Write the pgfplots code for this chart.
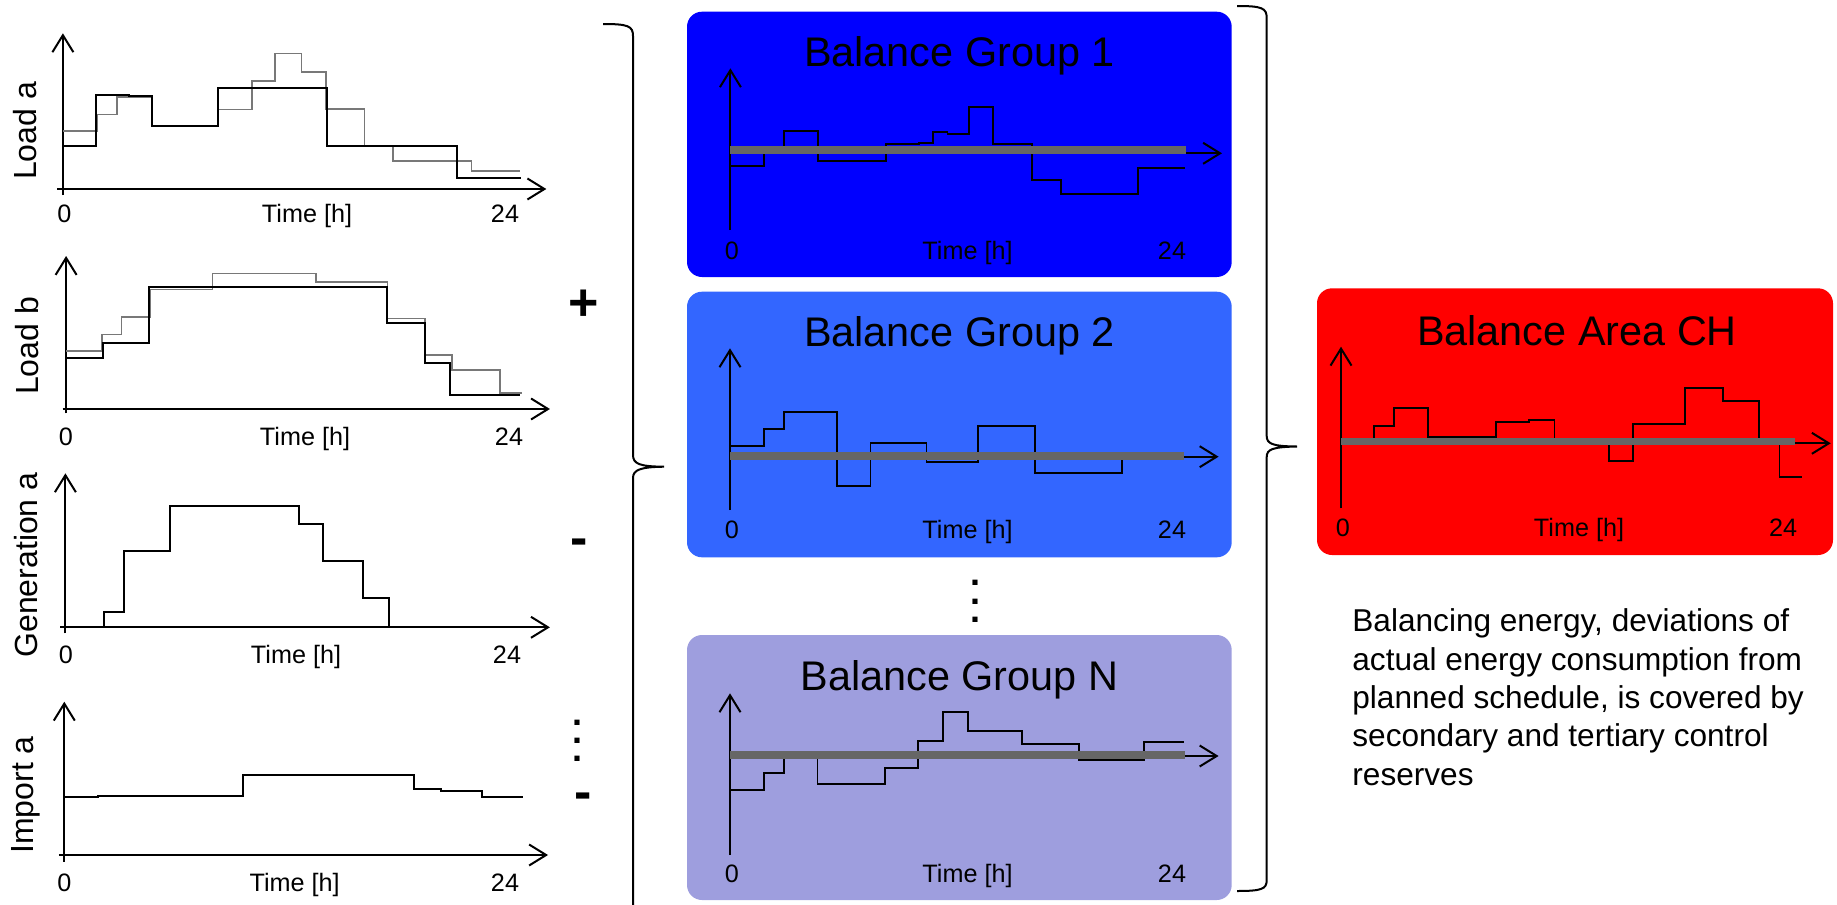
\documentclass[border=0pt]{standalone}
\usepackage{fontspec}
\setmainfont{Liberation Sans}
\usepackage{pgfplots}
\pgfplotsset{compat=1.18}
\usetikzlibrary{arrows.meta}

\definecolor{bgone}{HTML}{0000FF}
\definecolor{bgtwo}{HTML}{3366FF}
\definecolor{bgn}{HTML}{9E9EDE}
\definecolor{bgch}{HTML}{FF0000}
\definecolor{zerobar}{HTML}{666666}
\definecolor{plan}{HTML}{787878}

% one reference pixel = 0.5pt; axes are placed at their origin
\pgfplotsset{
  mini/.style={
    anchor=origin,
    axis lines*=middle,
    axis line style={line width=1pt,-{Straight Barb[length=8.5pt,width=10.5pt]}},
    ticks=none,
    clip=false,
    y=5pt,
  },
  step/.style={const plot, black, line width=0.95pt, no marks},
  stepgray/.style={const plot, plan, line width=0.8pt, no marks},
  zero/.style={sharp plot, zerobar, line width=3.7pt, no marks},
}

\newcommand{\lbl}{\fontsize{12.6}{15}\selectfont}
\newcommand{\side}{\fontsize{16}{19}\selectfont}
\newcommand{\ttl}{\fontsize{20.7}{25}\selectfont}
\newcommand{\note}{\fontsize{15.8}{19}\selectfont}
\newcommand{\sign}{\fontsize{26}{30}\selectfont\bfseries}
\newcommand{\dotf}{\fontsize{18}{9.1}\selectfont\bfseries}

\begin{document}
\begin{tikzpicture}[x=0.5pt,y=-0.5pt]
\useasboundingbox (0,0) rectangle (1837,905);

% coloured boxes
\fill[bgone,rounded corners=7.5pt] (687,11.7) rectangle (1231.7,277);
\fill[bgtwo,rounded corners=7.5pt] (687,291.7) rectangle (1231.7,557.3);
\fill[bgn,rounded corners=7.5pt] (687,635) rectangle (1231.7,900);
\fill[bgch,rounded corners=7.5pt] (1317,288.3) rectangle (1833,555);

% Load a
\begin{axis}[mini, at={({62.9*0.5pt},{-189*0.5pt})}, x=9.55pt, xmin=-0.3, xmax=25.31, ymin=-0.6, ymax=15.57]
\addplot[stepgray] coordinates {(0,5.8)(1.79,7.47)(2.84,9.23)(4.65,6.33)(8.11,7.97)(9.89,10.8)(11.1,13.57)(12.5,11.73)(13.76,8.0)(15.78,4.33)(17.27,2.83)(21.39,1.8)(23.91,1.8)};
\addplot[step] coordinates {(0,4.33)(1.72,9.4)(3.48,9.3)(4.65,6.33)(5.78,6.3)(8.11,10.07)(13.81,4.33)(20.64,1.13)(24,1.13)};
\end{axis}

% Load b
\begin{axis}[mini, at={({66.1*0.5pt},{-409*0.5pt})}, x=9.45pt, xmin=-0.19, xmax=25.6, ymin=-0.43, ymax=15.3]
\addplot[stepgray] coordinates {(0,5.8)(1.89,7.47)(2.93,9.23)(4.44,11.97)(7.74,13.57)(13.23,12.73)(17.0,9.07)(19.0,5.4)(20.41,3.9)(22.96,1.63)(24.1,1.63)};
\addplot[step] coordinates {(0,5.13)(1.93,6.57)(4.4,12.17)(17.0,8.57)(19.0,4.57)(20.31,1.4)(24,1.4)};
\end{axis}

% Generation a
\begin{axis}[mini, at={({65.4*0.5pt},{-627.3*0.5pt})}, x=9.5pt, xmin=-0.28, xmax=25.5, ymin=-0.6, ymax=15.4]
\addplot[step] coordinates {(0,0)(2.05,1.57)(3.1,7.67)(5.49,12.13)(12.31,10.3)(13.57,6.63)(15.64,2.97)(17.05,0)(18,0)};
\end{axis}

% Import a
\begin{axis}[mini, at={({64.3*0.5pt},{-855*0.5pt})}, x=9.56pt, xmin=-0.28, xmax=25.3, ymin=-0.67, ymax=15.33]
\addplot[step] coordinates {(0,5.77)(1.77,5.9)(9.34,8.0)(18.27,6.57)(19.7,6.43)(21.85,5.77)(24,5.77)};
\end{axis}

% Balance Group 1
\begin{axis}[mini, at={({730.4*0.5pt},{-153.3*0.5pt})}, x=9.465pt, xmin=0, xmax=25.97, ymin=-7.67, ymax=8.5]
\addplot[step] coordinates {(0,-1.23)(1.79,0)(2.83,2.23)(4.62,-0.73)(8.21,0.9)(9.94,1.0)(10.72,2.1)(11.47,1.93)(12.6,4.67)(13.89,0.93)(15.94,-2.67)(17.45,-4.1)(21.51,-1.5)(24,-1.5)};
\addplot[zero] coordinates {(0,0.33)(24.09,0.33)};
\end{axis}

% Balance Group 2
\begin{axis}[mini, at={({730*0.5pt},{-456.7*0.5pt})}, x=9.465pt, xmin=0, xmax=25.81, ymin=-5.33, ymax=10.84]
\addplot[step] coordinates {(0,1.1)(1.79,2.77)(2.83,4.43)(5.66,-2.93)(7.42,1.4)(10.38,-0.5)(13.11,3.1)(16.13,-1.67)(20.72,0)(24,0)};
\addplot[zero] coordinates {(0,0.07)(23.96,0.07)};
\end{axis}

% Balance Group N
\begin{axis}[mini, at={({730*0.5pt},{-756*0.5pt})}, x=9.465pt, xmin=0, xmax=25.81, ymin=-9.9, ymax=6.27]
\addplot[step] coordinates {(0,-3.4)(1.79,-1.73)(2.83,0)(4.62,-2.83)(8.21,-1.23)(9.91,1.53)(11.23,4.37)(12.55,2.5)(15.43,1.17)(18.45,-0.4)(21.89,1.43)(24,1.43)};
\addplot[zero] coordinates {(0,0.1)(24.05,0.1)};
\end{axis}

% Balance Area CH
\begin{axis}[mini, at={({1341*0.5pt},{-443.3*0.5pt})}, x=9.455pt, xmin=0, xmax=25.9, ymin=-6.5, ymax=9.66]
\addplot[step] coordinates {(0,0)(1.76,1.73)(2.81,3.5)(4.62,0.6)(8.19,2.1)(9.96,2.33)(11.29,0)(14.17,-1.73)(15.43,1.93)(18.21,5.5)(20.2,4.27)(22.1,0)(23.19,-3.33)(24.37,-3.33)};
\addplot[zero] coordinates {(0,0.16)(24,0.16)};
\end{axis}

% axis texts of the small charts
\begin{scope}[every node/.style={anchor=base,inner sep=0pt,font=\lbl}]
\node at (64.3,222.5) {0}; \node at (307,222.5) {Time [h]}; \node at (505,222.5) {24};
\node at (66,445) {0}; \node at (305,445) {Time [h]}; \node at (509,445) {24};
\node at (66,663) {0}; \node at (296,663) {Time [h]}; \node at (507,663) {24};
\node at (64.3,891) {0}; \node at (294.6,891) {Time [h]}; \node at (505,891) {24};
\node at (731.8,259) {0}; \node at (967.5,259) {Time [h]}; \node at (1172,259) {24};
\node at (731.8,538) {0}; \node at (967.5,538) {Time [h]}; \node at (1172,538) {24};
\node at (731.8,882.7) {0}; \node at (967.5,882.7) {Time [h]}; \node at (1172,882.7) {24};
\node at (1342.8,536.7) {0}; \node at (1579,536.7) {Time [h]}; \node at (1783,536.7) {24};
\end{scope}

\begin{scope}[every node/.style={rotate=90,inner sep=0pt,font=\side}]
\node at (25,131) {Load a};
\node at (27.5,346) {Load b};
\node at (26,565) {Generation a};
\node at (26,795) {Import a};
\end{scope}

% titles
\begin{scope}[every node/.style={anchor=base,inner sep=0pt,font=\ttl}]
\node at (959.4,66.7) {Balance Group 1};
\node at (959.4,346.7) {Balance Group 2};
\node at (959.4,690.7) {Balance Group N};
\node at (1577,345) {Balance Area CH};
\end{scope}

% signs and dots
\begin{scope}[every node/.style={anchor=base,inner sep=0pt}]
\node[font=\sign] at (584,320.7) {+};
\node[font=\sign] at (579.3,555.7) {-};
\node[font=\sign] at (583.3,809) {-};
\end{scope}
\node[font=\dotf,align=center,inner sep=0pt,anchor=center] at (577.7,740.7) {.\\.\\.};
\node[font=\dotf,align=center,inner sep=0pt,anchor=center] at (975,601.5) {.\\.\\.};

% braces
\draw[line width=1pt] (603,24) .. controls (628,24) and (633,26) .. (633,36) -- (633,455)
  .. controls (633,464) and (640,466.5) .. (664,466.7)
  .. controls (640,467) and (633,470) .. (633,478) -- (633,915);
\draw[line width=1pt] (1237,6) .. controls (1262,6) and (1266.7,8) .. (1266.7,18) -- (1266.7,436)
  .. controls (1266.7,444) and (1273,446.3) .. (1297,446.5)
  .. controls (1273,447) and (1266.7,449) .. (1266.7,457) -- (1266.7,880)
  .. controls (1266.7,889) and (1262,891) .. (1237,891);

% note
\begin{scope}[every node/.style={anchor=base west,inner sep=0pt,font=\note}]
\node at (1352,631.7) {Balancing energy, deviations of};
\node at (1352,670) {actual energy consumption from};
\node at (1352,708.3) {planned schedule, is covered by};
\node at (1352,746.7) {secondary and tertiary control};
\node at (1352,785) {reserves};
\end{scope}
\end{tikzpicture}
\end{document}
